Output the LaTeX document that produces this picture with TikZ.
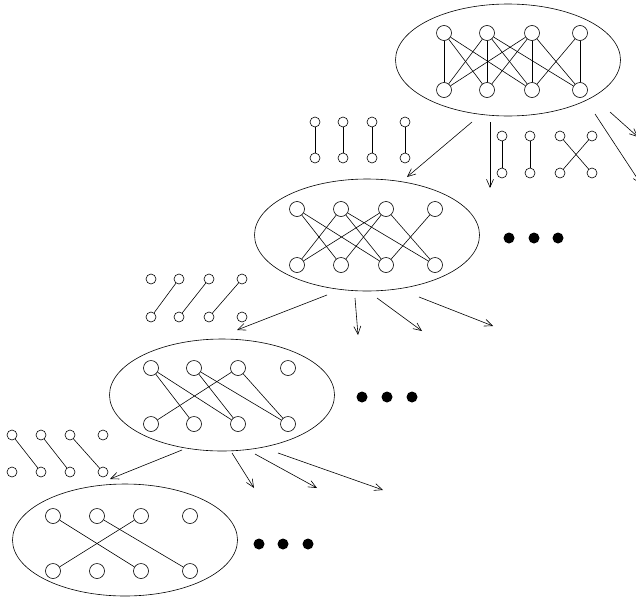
\documentclass[tikz,border=0pt]{standalone}
\usetikzlibrary{shapes.geometric,arrows.meta}
\begin{document}
\begin{tikzpicture}[x=1pt,y=-1pt,line width=0.6pt,
  bignode/.style={circle,draw,minimum size=15pt,inner sep=0pt},
  smallnode/.style={circle,draw,minimum size=10pt,inner sep=0pt},
  blob/.style={ellipse,draw,minimum width=225pt,minimum height=112pt,inner sep=0pt},
  dotnode/.style={circle,fill,minimum size=11pt,inner sep=0pt},
  arr/.style={-{Straight Barb[length=8pt,width=7pt]}}]
\useasboundingbox (0,0) rectangle (636,597);
\clip (0,0) rectangle (636,597);

% ellipses
\node[blob] (E1) at (508,60) {};
\node[blob] (E2) at (367,235) {};
\node[blob] (E3) at (222,395) {};
\node[blob] (E4) at (125,540) {};

% graph 1
\foreach \i/\x in {1/444,2/487,3/532,4/580}{
  \node[bignode] (at\i) at (\x,33) {};
  \node[bignode] (ab\i) at (\x,90) {};}
\foreach \a/\b in {1/1,1/2,1/3,2/1,2/2,2/3,2/4,3/1,3/2,3/3,3/4,4/3,4/4}
  \draw (at\a) -- (ab\b);

% graph 2
\foreach \i/\x in {1/297,2/341,3/386,4/435}{
  \node[bignode] (bt\i) at (\x,209) {};
  \node[bignode] (bb\i) at (\x,265) {};}
\foreach \a/\b in {1/2,1/3,2/1,2/3,2/4,3/1,3/2,3/4,4/3}
  \draw (bt\a) -- (bb\b);

% graph 3
\foreach \i/\x in {1/151,2/194,3/238,4/288}{
  \node[bignode] (ct\i) at (\x,368) {};
  \node[bignode] (cb\i) at (\x,424) {};}
\foreach \a/\b in {1/2,1/3,2/3,2/4,3/1,3/4}
  \draw (ct\a) -- (cb\b);

% graph 4
\foreach \i/\x in {1/53,2/97,3/141,4/190}{
  \node[bignode] (dt\i) at (\x,516) {};
  \node[bignode] (db\i) at (\x,571) {};}
\foreach \a/\b in {1/3,2/4,3/1}
  \draw (dt\a) -- (db\b);

% matchings
\foreach \i/\x in {1/315,2/343,3/372,4/405}{
  \node[smallnode] (mat\i) at (\x,122) {};
  \node[smallnode] (mab\i) at (\x,158) {};
  \draw (mat\i) -- (mab\i);}
\foreach \i/\x in {1/502,2/530,3/560,4/592}{
  \node[smallnode] (mbt\i) at (\x,136) {};
  \node[smallnode] (mbb\i) at (\x,173) {};}
\foreach \a/\b in {1/1,2/2,3/4,4/3}
  \draw (mbt\a) -- (mbb\b);
\foreach \i/\x in {1/151,2/179,3/209,4/242}{
  \node[smallnode] (mct\i) at (\x,279) {};
  \node[smallnode] (mcb\i) at (\x,317) {};}
\foreach \a/\b in {2/1,3/2,4/3}
  \draw (mct\a) -- (mcb\b);
\foreach \i/\x in {1/12,2/41,3/70,4/103}{
  \node[smallnode] (mdt\i) at (\x,435) {};
  \node[smallnode] (mdb\i) at (\x,472) {};}
\foreach \a/\b in {1/2,2/3,3/4}
  \draw (mdt\a) -- (mdb\b);

% dots
\foreach \j/\x/\y in {1/509/238,2/534/238,3/558/238,4/362/397,5/387/397,6/412/397,7/259/544,8/283/544,9/308/544}
  \node[dotnode] (dot\j) at (\x,\y) {};

% arrows
\foreach \k/\sx/\sy/\ex/\ey in {
  1/472/122/407/177, 2/490/122/490/188, 3/595/114/641/184, 4/610/112/638/137,
  5/327/295/237/330, 6/355/298/358/335, 7/377/298/422/331, 8/419/297/493/326,
  9/182/450/110/479, 10/232/453/254/488, 11/255/454/317/488, 12/278/453/383/490}{
  \coordinate (s\k) at (\sx,\sy);
  \coordinate (e\k) at (\ex,\ey);
  \draw[arr] (s\k) -- (e\k);}
\end{tikzpicture}
\end{document}
